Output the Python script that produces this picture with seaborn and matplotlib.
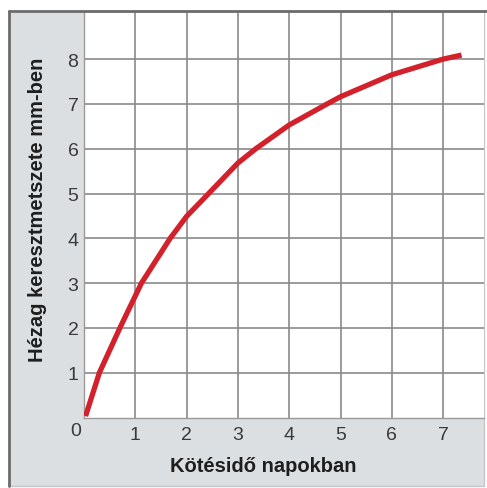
import matplotlib
matplotlib.use("Agg")
import matplotlib.pyplot as plt
import seaborn as sns
import pandas as pd
from matplotlib.patches import Rectangle
from matplotlib.lines import Line2D

# curve
days = [0.03, 0.3, 0.7, 1.12, 1.68, 2.0, 2.43, 3.0, 3.35, 4.0, 4.74, 5.0, 6.0, 7.0, 7.36]
gap_mm = [0.03, 1.0, 2.0, 3.0, 4.0, 4.49, 5.0, 5.68, 6.0, 6.53, 7.0, 7.16, 7.65, 8.0, 8.09]
x_ticks = [1, 2, 3, 4, 5, 6, 7]
y_ticks = [1, 2, 3, 4, 5, 6, 7, 8]
x_label = "Kötésidő napokban"
y_label = "Hézag keresztmetszete mm-ben"

sns.set_style("white")
plt.rcParams['font.family'] = ['Liberation Sans', 'DejaVu Sans']

W, H = 487, 489
fig = plt.figure(figsize=(W / 100, H / 100), dpi=100)

# grey frame behind the plot
fx0, fy0, fx1, fy1 = 9, 12, 484, 487
fig.patches.append(Rectangle((fx0 / W, 1 - fy1 / H), (fx1 - fx0) / W, (fy1 - fy0) / H,
                             transform=fig.transFigure, facecolor='#dcdfe2', edgecolor='none', zorder=-10))
fig.lines.append(Line2D([fx0 / W, fx0 / W], [1 - fy1 / H, 1 - fy0 / H], transform=fig.transFigure,
                        color='#6b6b6b', lw=2, zorder=5))
fig.lines.append(Line2D([fx0 / W, 1.0], [1 - fy0 / H, 1 - fy0 / H], transform=fig.transFigure,
                        color='#6b6b6b', lw=2, zorder=5))
fig.lines.append(Line2D([fx1 / W, fx1 / W], [1 - fy1 / H, 1 - fy0 / H], transform=fig.transFigure,
                        color='#c4c7ca', lw=1, zorder=-5))
fig.lines.append(Line2D([fx0 / W, fx1 / W], [1 - fy1 / H, 1 - fy1 / H], transform=fig.transFigure,
                        color='#c4c7ca', lw=1, zorder=-5))

ax_l, ax_r, ax_t, ax_b = 84, 484, 13, 418.5
ax = fig.add_axes([ax_l / W, 1 - ax_b / H, (ax_r - ax_l) / W, (ax_b - ax_t) / H])
ax.set_facecolor('white')

df = pd.DataFrame({"days": days, "gap": gap_mm})
sns.lineplot(data=df, x="days", y="gap", ax=ax, color='#d3212b', linewidth=3.8,
             solid_capstyle='butt', solid_joinstyle='round', zorder=3)

ax.set_xlim(0, (ax_r - ax_l) / 51.3)
ax.set_ylim(0, (ax_b - ax_t) / 44.8)
ax.set_xticks(x_ticks)
ax.set_yticks(y_ticks)
ax.set_xticklabels([str(v) for v in x_ticks])
ax.set_yticklabels([str(v) for v in y_ticks])
ax.tick_params(length=0, labelsize=14, colors='#3a3a3a')
ax.tick_params(axis='x', pad=6)
ax.tick_params(axis='y', pad=4)
ax.grid(True, color='#8a8a8a', lw=1.2)
ax.set_axisbelow(True)
ax.text(-0.16, -0.30, "0", ha='center', va='center', fontsize=14, color='#3a3a3a', clip_on=False)

for side in ['top', 'right']:
    ax.spines[side].set_visible(False)
for side in ['left', 'bottom']:
    ax.spines[side].set_color('#9a9a9a')
    ax.spines[side].set_linewidth(1.0)

ax.set_xlabel(x_label, fontsize=14.5, fontweight='bold', color='#1e1e1e')
ax.set_ylabel(y_label, fontsize=14.5, fontweight='bold', color='#1e1e1e')
ax.xaxis.set_label_coords((263 - ax_l) / (ax_r - ax_l), -(467 - ax_b) / (ax_b - ax_t))
ax.yaxis.set_label_coords(-(ax_l - 38) / (ax_r - ax_l), (ax_b - 210) / (ax_b - ax_t))
ax.xaxis.label.set_va('center')
ax.yaxis.label.set_va('center')

fig.savefig("out.png", dpi=100)
